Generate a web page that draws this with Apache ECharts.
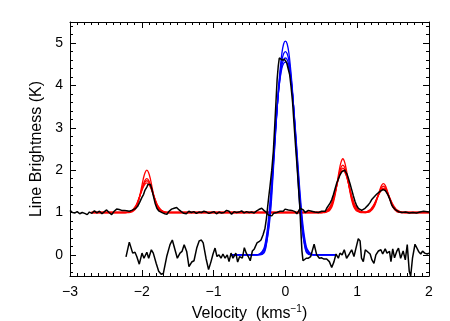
<!DOCTYPE html>
<html><head><meta charset="utf-8">
<script src="https://cdn.jsdelivr.net/npm/echarts@6/dist/echarts.min.js"></script>
<style>html,body{margin:0;padding:0;background:#fff}#c{width:450px;height:321px}</style>
</head><body><div id="c"></div>
<script>
// ---- data ----
var xTicks = [-3, -2, -1, 0, 1, 2];
var yTicks = [0, 1, 2, 3, 4, 5];
var yMinorTicks = [-0.4,-0.2,0.2,0.4,0.6,0.8,1.2,1.4,1.6,1.8,2.2,2.4,2.6,2.8,3.2,3.4,3.6,3.8,4.2,4.4,4.6,4.8,5.2,5.4];

// upper observed spectrum (offset +1 K)
var upperSpec = [[-3.0,1.05],[-2.965,1.0],[-2.93,0.99],[-2.9,1.02],[-2.865,0.97],[-2.83,1.0],[-2.795,0.98],[-2.76,0.95],[-2.73,1.01],[-2.695,0.98],[-2.66,1.04],[-2.625,0.99],[-2.59,1.03],[-2.555,0.97],[-2.52,1.02],[-2.49,1.06],[-2.455,1.0],[-2.42,0.95],[-2.385,1.03],[-2.35,1.08],[-2.315,1.07],[-2.28,1.05],[-2.245,1.05],[-2.21,1.04],[-2.175,1.03],[-2.14,1.05],[-2.12,1.06],[-2.09,1.09],[-2.06,1.14],[-2.03,1.24],[-2.0,1.35],[-1.975,1.43],[-1.955,1.53],[-1.93,1.6],[-1.915,1.66],[-1.9,1.69],[-1.88,1.66],[-1.86,1.55],[-1.84,1.4],[-1.815,1.22],[-1.79,1.1],[-1.765,1.04],[-1.74,1.02],[-1.71,0.99],[-1.68,0.97],[-1.65,0.96],[-1.62,1.03],[-1.585,1.08],[-1.55,1.1],[-1.515,1.12],[-1.48,1.06],[-1.45,1.02],[-1.415,0.98],[-1.38,0.97],[-1.345,1.03],[-1.31,1.0],[-1.275,1.02],[-1.24,0.98],[-1.205,1.01],[-1.17,1.0],[-1.135,1.03],[-1.1,1.01],[-1.065,0.98],[-1.03,1.0],[-0.995,1.02],[-0.96,0.97],[-0.925,1.01],[-0.89,0.99],[-0.855,1.0],[-0.82,1.05],[-0.785,1.03],[-0.75,0.96],[-0.715,1.02],[-0.68,1.0],[-0.645,1.01],[-0.61,1.04],[-0.575,0.99],[-0.54,1.02],[-0.505,1.0],[-0.47,1.01],[-0.435,0.99],[-0.4,1.04],[-0.37,1.07],[-0.33,1.1],[-0.3,1.05],[-0.27,1.01],[-0.237,0.94],[-0.21,0.91],[-0.19,0.92],[-0.165,0.98],[-0.145,1.02],[-0.12,1.0],[-0.098,1.0],[-0.075,1.03],[-0.052,1.05],[-0.03,1.03],[-0.005,1.08],[0.02,1.07],[0.041,1.06],[0.065,1.02],[0.088,1.05],[0.11,1.03],[0.134,1.02],[0.16,0.97],[0.181,0.96],[0.204,1.1],[0.225,1.07],[0.25,1.06],[0.275,1.0],[0.297,1.02],[0.32,1.05],[0.343,1.08],[0.365,1.03],[0.39,1.05],[0.41,1.01],[0.436,0.98],[0.46,1.0],[0.483,1.02],[0.505,1.03],[0.529,1.06],[0.555,1.03],[0.575,1.1],[0.6,1.14],[0.622,1.22],[0.645,1.3],[0.668,1.42],[0.69,1.55],[0.714,1.69],[0.74,1.8],[0.761,1.89],[0.785,1.96],[0.807,2.0],[0.825,2.0],[0.844,1.96],[0.86,1.9],[0.877,1.81],[0.9,1.68],[0.923,1.54],[0.945,1.4],[0.97,1.26],[0.993,1.16],[1.016,1.1],[1.04,1.06],[1.062,1.05],[1.085,1.07],[1.109,1.1],[1.13,1.13],[1.155,1.18],[1.18,1.24],[1.2,1.3],[1.225,1.35],[1.248,1.39],[1.27,1.43],[1.294,1.46],[1.318,1.5],[1.34,1.52],[1.36,1.54],[1.373,1.55],[1.39,1.52],[1.41,1.47],[1.43,1.41],[1.447,1.34],[1.465,1.26],[1.48,1.18],[1.497,1.13],[1.512,1.1],[1.53,1.07],[1.55,1.06],[1.575,1.02],[1.6,1.04],[1.625,1.0],[1.65,1.03],[1.675,1.01],[1.7,1.04],[1.725,0.99],[1.75,1.02],[1.775,1.0],[1.8,1.01],[1.825,0.99],[1.85,1.02],[1.875,1.01],[1.9,0.99],[1.925,1.03],[1.95,1.0],[1.975,1.02],[2.0,1.01]];

// lower observed spectrum (baseline 0)
var lowV = [-2.22,-2.174,-2.127,-2.095,-2.07,-2.035,-1.997,-1.97,-1.93,-1.904,-1.867,-1.84,-1.80,-1.765,-1.73,-1.70,-1.653,-1.607,-1.575,-1.55,-1.505,-1.468,-1.44,-1.41,-1.375,-1.343,-1.305,-1.273,-1.235,-1.2,-1.17,-1.145,-1.106,-1.07,-1.036,-1.008,-0.98,-0.953,-0.925,-0.897,-0.87,-0.84,-0.81,-0.785,-0.757,-0.73,-0.69,-0.665,-0.637,-0.6,-0.572,-0.545,-0.517,-0.49,-0.46,-0.433,-0.396,-0.368,-0.34,-0.312,-0.284,-0.265,-0.247,-0.23,-0.215,-0.19,-0.168,-0.15,-0.131,-0.115,-0.1,-0.085,-0.075,-0.06,-0.043,-0.03,-0.015,0.0,0.018,0.035,0.06,0.08,0.1,0.12,0.14,0.16,0.18,0.2,0.215,0.23,0.245,0.27,0.29,0.32,0.352,0.4,0.436,0.473,0.505,0.538,0.575,0.612,0.645,0.677,0.705,0.737,0.76,0.79,0.82,0.852,0.89,0.923,0.955,0.983,1.015,1.04,1.06,1.085,1.113,1.14,1.18,1.205,1.233,1.26,1.295,1.33,1.355,1.39,1.415,1.45,1.47,1.495,1.52,1.55,1.575,1.605,1.64,1.67,1.697,1.725,1.745,1.77,1.805,1.83,1.855,1.885,1.91,1.94,1.975,2.0];
var lowT = [-0.05,0.30,0.04,0.06,-0.04,-0.22,0.04,-0.08,0.06,-0.08,0.12,0.04,-0.2,-0.39,-0.46,-0.44,-0.04,0.24,0.35,0.33,-0.08,0.04,0.08,0.24,0.08,-0.28,-0.17,-0.14,0.16,0.33,0.35,0.28,-0.08,-0.35,-0.16,0.02,0.16,-0.04,0.0,-0.08,0.02,-0.08,0.0,-0.16,0.04,-0.08,0.04,-0.17,-0.04,-0.08,0.17,0.04,-0.04,-0.14,0.09,0.14,0.28,0.31,0.35,0.47,0.63,0.85,1.14,1.4,1.61,2.0,2.44,3.0,3.62,4.15,4.45,4.65,4.68,4.63,4.6,4.6,4.62,4.58,4.54,4.42,4.25,3.95,3.6,3.1,2.6,2.15,1.65,1.15,0.6,0.1,-0.14,-0.1,-0.08,-0.08,-0.04,0.25,0.0,-0.08,-0.07,-0.1,-0.1,-0.16,-0.3,-0.16,0.02,-0.08,0.04,0.0,0.12,-0.08,0.02,0.12,-0.04,0.16,0.38,0.33,-0.08,-0.16,0.12,0.16,0.02,-0.12,-0.2,0.0,0.09,0.12,0.02,0.14,0.04,0.08,-0.16,0.14,-0.07,0.08,0.16,-0.08,0.09,-0.12,0.24,-0.39,-0.5,-0.08,0.25,0.27,0.08,0.02,0.09,0.04,0.02,0.04];

// red model curves (satellite components, offset +1 K)
var redV = [-2.7,-2.23,-2.18,-2.13,-2.105,-2.08,-2.055,-2.03,-2.005,-1.98,-1.955,-1.93,-1.905,-1.88,-1.855,-1.83,-1.805,-1.78,-1.755,-1.73,-1.68,-1.63,0.5,0.55,0.6,0.625,0.65,0.675,0.7,0.725,0.75,0.775,0.8,0.825,0.85,0.875,0.9,0.925,0.95,0.975,1.0,1.05,1.115,1.165,1.19,1.215,1.24,1.265,1.29,1.315,1.34,1.365,1.39,1.415,1.44,1.465,1.49,1.515,1.54,1.565,1.615,1.665,2.0];
var redA = [1.0, 1.0,1.0,1.02,1.05,1.11,1.22,1.38,1.58,1.79,1.94,2.0,1.94,1.79,1.58,1.38,1.22,1.11,1.05,1.02,1.0,1.0, 1.0,1.0,1.03,1.07,1.14,1.28,1.48,1.74,2.0,2.19,2.27,2.19,2.0,1.74,1.48,1.28,1.14,1.07,1.03,1.0, 1.0,1.01,1.04,1.08,1.15,1.26,1.39,1.53,1.64,1.68,1.64,1.53,1.39,1.26,1.15,1.08,1.04,1.01,1.0,1.0, 1.0];
var redB = [1.0, 1.0,1.01,1.04,1.07,1.14,1.24,1.37,1.52,1.66,1.76,1.8,1.76,1.66,1.52,1.37,1.24,1.14,1.07,1.04,1.01,1.0, 1.0,1.01,1.05,1.10,1.19,1.33,1.51,1.72,1.92,2.07,2.12,2.07,1.92,1.72,1.51,1.33,1.19,1.10,1.05,1.01, 1.0,1.03,1.06,1.11,1.18,1.28,1.40,1.51,1.59,1.62,1.59,1.51,1.40,1.28,1.18,1.11,1.06,1.03,1.0,1.0, 1.0];
var redC = [1.0, 1.0,1.01,1.05,1.09,1.16,1.25,1.38,1.51,1.63,1.72,1.75,1.72,1.63,1.51,1.38,1.25,1.16,1.09,1.05,1.01,1.0, 1.0,1.01,1.07,1.13,1.22,1.36,1.53,1.71,1.88,2.01,2.05,2.01,1.88,1.71,1.53,1.36,1.22,1.13,1.07,1.01, 1.01,1.04,1.07,1.12,1.19,1.29,1.39,1.48,1.55,1.57,1.55,1.48,1.39,1.29,1.19,1.12,1.07,1.04,1.01,1.0, 1.0];
var redD = [1.0, 1.0,1.01,1.06,1.11,1.17,1.27,1.38,1.49,1.6,1.67,1.7,1.67,1.6,1.49,1.38,1.27,1.17,1.11,1.06,1.01,1.0, 1.0,1.02,1.09,1.15,1.25,1.38,1.54,1.71,1.86,1.96,2.0,1.96,1.86,1.71,1.54,1.38,1.25,1.15,1.09,1.02, 1.01,1.05,1.08,1.14,1.21,1.30,1.39,1.47,1.53,1.55,1.53,1.47,1.39,1.30,1.21,1.14,1.08,1.05,1.01,1.0, 1.0];

// blue model curves (main component, baseline 0)
var blueV = [-0.75,-0.4,-0.35,-0.3,-0.275,-0.25,-0.225,-0.2,-0.175,-0.15,-0.125,-0.1,-0.075,-0.05,-0.025,0,0.025,0.05,0.075,0.1,0.125,0.15,0.175,0.2,0.225,0.25,0.275,0.3,0.35,0.4,0.7];
var blueA = [0,0,0,0.04,0.15,0.4,0.7,1.15,1.8,2.5,3.2,3.85,4.35,4.75,4.98,5.05,4.98,4.75,4.35,3.85,3.2,2.5,1.8,1.15,0.7,0.4,0.15,0.04,0,0,0];
var blueB = [0,0,0.01,0.07,0.19,0.42,0.8,1.3,1.92,2.58,3.22,3.8,4.25,4.58,4.75,4.8,4.75,4.58,4.25,3.8,3.22,2.58,1.92,1.3,0.8,0.42,0.19,0.07,0.01,0,0];
var blueC = [0,0,0.02,0.11,0.26,0.52,0.92,1.42,2.02,2.65,3.25,3.78,4.18,4.47,4.61,4.65,4.61,4.47,4.18,3.78,3.25,2.65,2.02,1.42,0.92,0.52,0.26,0.11,0.02,0,0];
var blueD = [0,0,0.03,0.15,0.33,0.62,1.04,1.55,2.12,2.72,3.28,3.77,4.15,4.4,4.52,4.55,4.52,4.4,4.15,3.77,3.28,2.72,2.12,1.55,1.04,0.62,0.33,0.15,0.03,0,0];

// ---- build ----
function zip(xs, ys) { return xs.map(function (x, i) { return [x, ys[i]]; }); }
var FONT = 'Liberation Sans';
function fmt(v) { return String(v).replace('-', '\u2212'); }

var series = [];
[redA, redB, redC, redD].forEach(function (arr) {
  series.push({ type: 'line', data: zip(redV, arr), showSymbol: false, smooth: 0.35,
    lineStyle: { color: '#ff0000', width: 1.3 }, silent: true, z: 2 });
});
[blueA, blueB, blueC, blueD].forEach(function (arr) {
  series.push({ type: 'line', data: zip(blueV, arr), showSymbol: false, smooth: 0.35,
    lineStyle: { color: '#0000ff', width: 1.3 }, silent: true, z: 3 });
});
series.push({ type: 'line', data: upperSpec, showSymbol: false,
  lineStyle: { color: '#000', width: 1.5 }, silent: true, z: 4 });
series.push({ type: 'line', data: zip(lowV, lowT), showSymbol: false,
  lineStyle: { color: '#000', width: 1.5 }, silent: true, z: 4 });

var axisBase = { type: 'value', min: xTicks[0], max: xTicks[xTicks.length - 1], interval: 1,
  axisLine: { show: true, onZero: false, lineStyle: { color: '#000', width: 1 } },
  splitLine: { show: false },
  axisTick: { show: true, inside: true, length: 6, lineStyle: { color: '#000' } },
  minorTick: { show: true, splitNumber: 10, length: 3, lineStyle: { color: '#000' } } };

var xAxes = [
  Object.assign({}, axisBase, { position: 'bottom',
    axisLabel: { show: true, color: '#000', fontFamily: FONT, fontSize: 14, margin: 9, formatter: fmt },
    name: 'Velocity  (kms{sup|\u22121})', nameLocation: 'middle', nameGap: 28,
    nameTextStyle: { color: '#000', fontFamily: FONT, fontSize: 16,
      rich: { sup: { fontSize: 10, fontFamily: FONT, color: '#000', padding: [0, 0, 9, 0] } } } }),
  Object.assign({}, axisBase, { position: 'top', axisLabel: { show: false } })
];

function yAxisMaker(pos, custom, len, showLabel, showLine, name) {
  var a = { type: 'value', min: -0.5, max: 5.5, position: pos,
    axisLine: { show: showLine, onZero: false, lineStyle: { color: '#000', width: 1 } },
    splitLine: { show: false },
    axisTick: { show: true, inside: true, length: len, customValues: custom, lineStyle: { color: '#000' } },
    axisLabel: { show: showLabel, customValues: custom, color: '#000', fontFamily: FONT, fontSize: 14, margin: 7, formatter: fmt } };
  if (name) {
    a.name = name; a.nameLocation = 'middle'; a.nameGap = 22;
    a.nameTextStyle = { color: '#000', fontFamily: FONT, fontSize: 16 };
  }
  return a;
}
var yAxes = [
  yAxisMaker('left', yTicks, 6, true, true, 'Line Brightness (K)'),
  yAxisMaker('right', yTicks, 6, false, true),
  yAxisMaker('left', yMinorTicks, 3, false, false),
  yAxisMaker('right', yMinorTicks, 3, false, false)
];

var chart = echarts.init(document.getElementById('c'), null, { renderer: 'canvas' });
chart.setOption({
  animation: false,
  backgroundColor: '#fff',
  grid: { left: 70, right: 21, top: 22, bottom: 45, containLabel: false, outerBoundsMode: 'none' },
  xAxis: xAxes,
  yAxis: yAxes,
  series: series
});
</script>
</body></html>
